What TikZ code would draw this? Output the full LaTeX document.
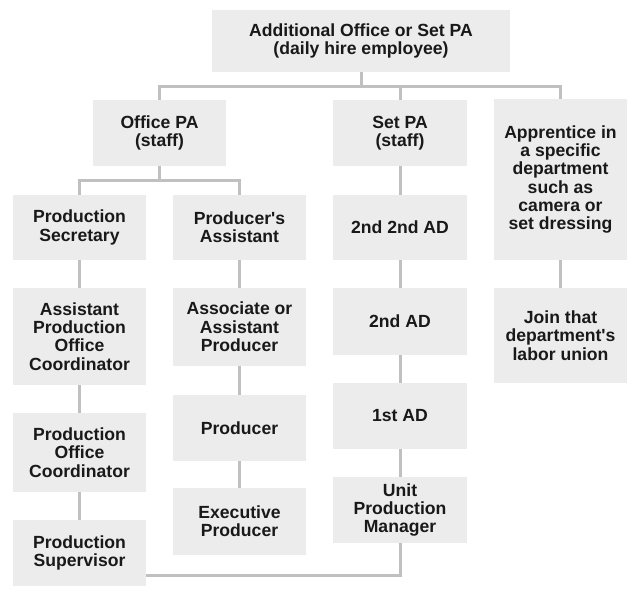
\documentclass[tikz,border=0pt]{standalone}
\usepackage{fontspec}
\setmainfont{Liberation Sans}
\usepackage{tikz}
\usetikzlibrary{calc}
\definecolor{boxgray}{RGB}{236,236,236}
\definecolor{linegray}{RGB}{192,192,192}
\definecolor{txt}{RGB}{25,25,25}

\begin{document}
\begin{tikzpicture}[x=1pt,y=-1pt,
  job/.style={fill=boxgray, text=txt, align=center, inner sep=0pt, minimum width=133pt,
    font=\fontsize{17.6}{18.3}\selectfont\bfseries},
  conn/.style={draw=linegray, line width=3pt}]
\useasboundingbox (0,0) rectangle (640,598);
% top row
\node[job, minimum width=298pt, minimum height=62pt] (top) at (361,41) {Additional Office or Set PA\\(daily hire employee)};
\node[job, minimum height=66pt] (offpa) at (159.5,133) {Office PA\\(staff)};
\node[job, minimum width=134pt, minimum height=66pt] (setpa) at (400,133) {Set PA\\(staff)};
\node[job, minimum height=161pt] (appr) at (560.5,179.5) {Apprentice in\\a specific\\department\\such as\\camera or\\set dressing};
% office side
\node[job, minimum height=65pt] (prodsec) at (79.5,227.5) {Production\\Secretary};
\node[job, minimum height=97pt] (apoc) at (79.5,336.5) {Assistant\\Production\\Office\\Coordinator};
\node[job, minimum height=79pt] (poc) at (79.5,452.5) {Production\\Office\\Coordinator};
\node[job, minimum height=66pt] (prodsup) at (79.5,553) {Production\\Supervisor};
\node[job, minimum height=65pt] (prodasst) at (239.5,227.5) {Producer\textquotesingle s\\Assistant};
\node[job, minimum height=78pt] (assoc) at (239.5,327) {Associate or\\Assistant\\Producer};
\node[job, minimum height=66pt] (producer) at (239.5,428) {Producer};
\node[job, minimum height=67pt] (execprod) at (239.5,521.5) {Executive\\Producer};
% set side
\node[job, minimum width=134pt, minimum height=65pt] (ssad) at (400,227.5) {2nd 2nd AD};
\node[job, minimum width=134pt, minimum height=67pt] (sad) at (400,321.5) {2nd AD};
\node[job, minimum width=134pt, minimum height=66pt] (fad) at (400,416) {1st AD};
\node[job, minimum width=134pt, minimum height=66pt] (upm) at (400,510) {Unit\\Production\\Manager};
\node[job, minimum height=95pt] (join) at (560.5,335.5) {Join that\\department\textquotesingle s\\labor union};

\coordinate (bus1) at (361,86);
\coordinate (bus2) at (159.5,180);
\coordinate (bus3) at (400,575);

\draw[conn] (top.south) -- (bus1);
\draw[conn] (offpa.north) |- (bus1) -| (appr.north);
\draw[conn] (setpa.north) -- (setpa.north |- bus1);
\draw[conn] (offpa.south) -- (bus2);
\draw[conn] (prodsec.north) |- (bus2) -| (prodasst.north);
\draw[conn] (prodsec) -- (apoc) (apoc) -- (poc) (poc) -- (prodsup);
\draw[conn] (prodasst) -- (assoc) (assoc) -- (producer) (producer) -- (execprod);
\draw[conn] (setpa) -- (ssad) (ssad) -- (sad) (sad) -- (fad) (fad) -- (upm);
\draw[conn] (appr) -- (join);
\draw[conn] (upm.south) -- (bus3) -- (bus3 -| prodsup.east);
\end{tikzpicture}
\end{document}
